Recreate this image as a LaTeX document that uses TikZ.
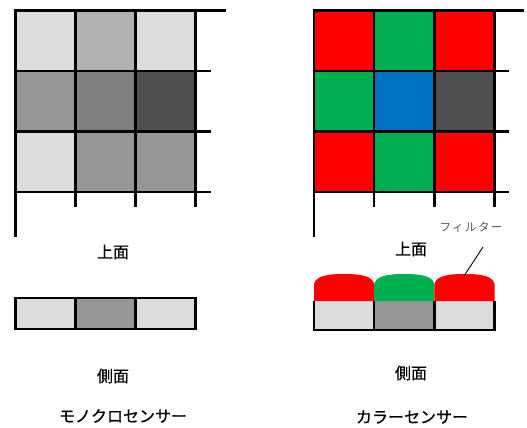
\documentclass[tikz,border=0pt]{standalone}
\usepackage{fontspec}
\setmainfont[FakeBold=0.7]{Noto Sans CJK JP}
\newfontfamily\jpthin[LetterSpace=12]{Noto Sans CJK JP}
\definecolor{cA}{HTML}{DCDCDC}
\definecolor{cB}{HTML}{B2B2B2}
\definecolor{cC}{HTML}{969696}
\definecolor{cD}{HTML}{808080}
\definecolor{cE}{HTML}{4F4F4F}
\definecolor{cR}{HTML}{FF0000}
\definecolor{cG}{HTML}{00B050}
\definecolor{cBl}{HTML}{0070C0}
\definecolor{cT}{HTML}{595959}
\begin{document}
\begin{tikzpicture}[x=1pt,y=-1pt,
  gridline/.style={line width=2.3pt,black},
  lbl/.style={font=\fontsize{16pt}{18pt}\selectfont,inner sep=0pt},
  small/.style={font=\jpthin\fontsize{11.5pt}{13pt}\selectfont,text=cT,inner sep=0pt},
  lead/.style={line width=0.9pt,black}]
\useasboundingbox (0,0) rectangle (527,428);

% ---------- left top view ----------
\foreach \c [count=\i from 0] in {cA,cB,cA}{\fill[\c] (15.5+60*\i,10.5) rectangle ++(60,60.5);}
\foreach \c [count=\i from 0] in {cC,cD,cE}{\fill[\c] (15.5+60*\i,71) rectangle ++(60,60.5);}
\foreach \c [count=\i from 0] in {cA,cC,cC}{\fill[\c] (15.5+60*\i,131.5) rectangle ++(60,60.5);}
\draw[gridline] (15.5,9) -- (15.5,237);
\foreach \x in {75.5,135.5,195.5}{\draw[gridline] (\x,9) -- (\x,207);}
\draw[gridline] (14.5,10.5) -- (226,10.5);
\foreach \y in {71,131.5,192}{\draw[gridline] (14.5,\y) -- (211,\y);}

% ---------- right top view ----------
\foreach \c [count=\i from 0] in {cR,cG,cR}{\fill[\c] (314+60.2*\i,10.5) rectangle ++(60.2,60.5);}
\foreach \c [count=\i from 0] in {cG,cBl,cE}{\fill[\c] (314+60.2*\i,71) rectangle ++(60.2,60.5);}
\foreach \c [count=\i from 0] in {cR,cG,cR}{\fill[\c] (314+60.2*\i,131.5) rectangle ++(60.2,60.5);}
\draw[gridline] (314,9) -- (314,237);
\foreach \x in {374.2,434.4,494.6}{\draw[gridline] (\x,9) -- (\x,207);}
\draw[gridline] (313,10.5) -- (524,10.5);
\foreach \y in {71,131.5,192}{\draw[gridline] (313,\y) -- (509,\y);}

% ---------- left side view ----------
\foreach \c [count=\i from 0] in {cA,cC,cA}{\fill[\c] (15.5+60*\i,298) rectangle ++(60,31);}
\draw[gridline] (15.5,298) rectangle (195.5,329);
\draw[gridline] (75.5,298) -- (75.5,329);
\draw[gridline] (135.5,298) -- (135.5,329);

% ---------- right side view ----------
\foreach \c [count=\i from 0] in {cA,cC,cA}{\fill[\c] (314+60.2*\i,301) rectangle ++(60.2,29);}
\foreach \c [count=\i from 0] in {cR,cG,cR}{
  \fill[\c] (314+60.2*\i,301) -- ++(0,-17)
    .. controls +(2,-8) and +(-17,0) .. ++(30.1,-10)
    .. controls +(17,0) and +(-2,-8) .. ++(30.1,10)
    -- ++(0,17) -- cycle;}
\draw[gridline] (314,301) -- (314,330) -- (494.6,330) -- (494.6,301);
\draw[gridline] (374.2,301) -- (374.2,330);
\draw[gridline] (434.4,301) -- (434.4,330);

% ---------- labels ----------
\node[lbl] (topL) at (113,252) {上面};
\node[lbl] (topR) at (411,249) {上面};
\node[lbl] (sideL) at (113,376) {側面};
\node[lbl] (sideR) at (411,373) {側面};
\node[lbl] (mono) at (123,416) {モノクロセンサー};
\node[lbl] (color) at (412,417) {カラーセンサー};
\node[small] (filt) at (471,227) {フィルター};
\coordinate (leadA) at (483,247);
\coordinate (leadB) at (464,276);
\draw[lead] (leadA) -- (leadB);
\end{tikzpicture}
\end{document}
